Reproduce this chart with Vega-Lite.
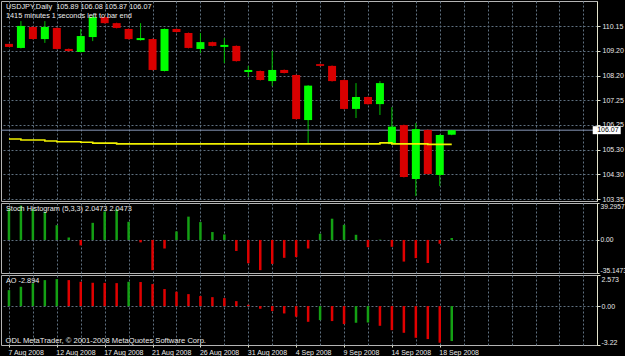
{
  "$schema": "https://vega.github.io/schema/vega-lite/v6.json",
  "background": "#000000",
  "padding": 0,
  "spacing": 2,
  "bounds": "flush",
  "config": {
    "view": {"stroke": "#b4b4b4", "strokeWidth": 1},
    "axis": {
      "domainColor": "#e4e4cc",
      "tickColor": "#e4e4cc",
      "labelColor": "#e8e8e8",
      "labelFont": "Liberation Sans",
      "labelFontSize": 7,
      "tickSize": 3,
      "labelPadding": 1,
      "gridDash": [2, 2],
      "gridColor": "#5f7080",
      "gridOpacity": 1,
      "title": null,
      "labelOverlap": false,
      "labelBound": false
    },
    "title": {
      "anchor": "start",
      "frame": "group",
      "color": "#ececec",
      "font": "Liberation Sans",
      "fontSize": 7.3,
      "fontWeight": "normal",
      "subtitleColor": "#ececec",
      "subtitleFont": "Liberation Sans",
      "subtitleFontSize": 7.3,
      "subtitlePadding": 1.5,
      "dx": 5
    }
  },
  "data": {
    "values": [
      {"i": 0, "open": 109.48, "high": 109.48, "low": 109.36, "close": 109.36, "ma": 105.72, "stoch": 33.6, "ao": 1.32, "aoUp": true},
      {"i": 1, "open": 109.32, "high": 110.38, "low": 109.30, "close": 110.19, "ma": 105.68, "stoch": 36.5, "ao": 1.60, "aoUp": true},
      {"i": 2, "open": 110.15, "high": 110.17, "low": 109.65, "close": 109.67, "ma": 105.68, "stoch": 32.8, "ao": 1.88, "aoUp": true},
      {"i": 3, "open": 109.67, "high": 110.38, "low": 109.52, "close": 110.15, "ma": 105.64, "stoch": 29.9, "ao": 2.15, "aoUp": true},
      {"i": 4, "open": 110.11, "high": 110.13, "low": 109.26, "close": 109.28, "ma": 105.61, "stoch": 15.7, "ao": 2.23, "aoUp": true},
      {"i": 5, "open": 109.28, "high": 109.30, "low": 109.18, "close": 109.20, "ma": 105.61, "stoch": 2.6, "ao": 2.15, "aoUp": false},
      {"i": 6, "open": 109.16, "high": 110.07, "low": 109.14, "close": 109.79, "ma": 105.59, "stoch": -5.8, "ao": 2.01, "aoUp": false},
      {"i": 7, "open": 109.75, "high": 110.62, "low": 109.59, "close": 110.54, "ma": 105.56, "stoch": 18.2, "ao": 1.93, "aoUp": false},
      {"i": 8, "open": 110.54, "high": 110.56, "low": 110.28, "close": 110.30, "ma": 105.56, "stoch": 30.3, "ao": 1.92, "aoUp": false},
      {"i": 9, "open": 110.30, "high": 110.32, "low": 110.09, "close": 110.11, "ma": 105.53, "stoch": 32.8, "ao": 1.90, "aoUp": false},
      {"i": 10, "open": 110.07, "high": 110.09, "low": 109.65, "close": 109.67, "ma": 105.53, "stoch": 19.3, "ao": 2.01, "aoUp": true},
      {"i": 11, "open": 109.63, "high": 110.30, "low": 109.61, "close": 109.71, "ma": 105.53, "stoch": -2.6, "ao": 1.99, "aoUp": false},
      {"i": 12, "open": 109.67, "high": 109.69, "low": 108.43, "close": 108.45, "ma": 105.53, "stoch": -32.1, "ao": 1.82, "aoUp": false},
      {"i": 13, "open": 108.41, "high": 110.09, "low": 108.39, "close": 110.07, "ma": 105.53, "stoch": -9.1, "ao": 1.41, "aoUp": false},
      {"i": 14, "open": 110.07, "high": 110.09, "low": 109.93, "close": 109.95, "ma": 105.53, "stoch": 9.1, "ao": 1.19, "aoUp": false},
      {"i": 15, "open": 109.91, "high": 109.93, "low": 109.30, "close": 109.32, "ma": 105.53, "stoch": 24.8, "ao": 0.99, "aoUp": false},
      {"i": 16, "open": 109.28, "high": 109.91, "low": 109.12, "close": 109.55, "ma": 105.53, "stoch": 19.0, "ao": 0.83, "aoUp": false},
      {"i": 17, "open": 109.55, "high": 109.57, "low": 109.38, "close": 109.40, "ma": 105.53, "stoch": 8.4, "ao": 0.74, "aoUp": false},
      {"i": 18, "open": 109.36, "high": 109.71, "low": 108.72, "close": 109.44, "ma": 105.53, "stoch": 5.8, "ao": 0.66, "aoUp": false},
      {"i": 19, "open": 109.40, "high": 109.42, "low": 108.78, "close": 108.80, "ma": 105.53, "stoch": -11.7, "ao": 0.41, "aoUp": false},
      {"i": 20, "open": 108.37, "high": 108.61, "low": 108.17, "close": 108.45, "ma": 105.53, "stoch": -24.8, "ao": 0.11, "aoUp": false},
      {"i": 21, "open": 108.41, "high": 108.43, "low": 108.03, "close": 108.05, "ma": 105.53, "stoch": -32.1, "ao": -0.22, "aoUp": false},
      {"i": 22, "open": 108.01, "high": 109.20, "low": 107.81, "close": 108.45, "ma": 105.53, "stoch": -25.5, "ao": -0.41, "aoUp": false},
      {"i": 23, "open": 108.45, "high": 108.47, "low": 108.31, "close": 108.33, "ma": 105.53, "stoch": -19.0, "ao": -0.61, "aoUp": false},
      {"i": 24, "open": 108.25, "high": 108.27, "low": 106.49, "close": 106.51, "ma": 105.53, "stoch": -18.2, "ao": -0.88, "aoUp": false},
      {"i": 25, "open": 106.47, "high": 107.85, "low": 105.56, "close": 107.83, "ma": 105.53, "stoch": -9.1, "ao": -1.30, "aoUp": false},
      {"i": 26, "open": 108.68, "high": 108.70, "low": 108.59, "close": 108.61, "ma": 105.53, "stoch": 6.6, "ao": -1.16, "aoUp": true},
      {"i": 27, "open": 108.61, "high": 108.63, "low": 107.99, "close": 108.01, "ma": 105.53, "stoch": 22.6, "ao": -1.24, "aoUp": false},
      {"i": 28, "open": 108.05, "high": 108.07, "low": 106.89, "close": 106.91, "ma": 105.53, "stoch": 16.1, "ao": -1.49, "aoUp": false},
      {"i": 29, "open": 106.91, "high": 107.93, "low": 106.55, "close": 107.38, "ma": 105.53, "stoch": 5.5, "ao": -1.38, "aoUp": true},
      {"i": 30, "open": 107.38, "high": 107.40, "low": 107.08, "close": 107.10, "ma": 105.53, "stoch": -7.7, "ao": -1.36, "aoUp": true},
      {"i": 31, "open": 107.10, "high": 108.01, "low": 106.67, "close": 107.93, "ma": 105.57, "stoch": 0.4, "ao": -1.63, "aoUp": false},
      {"i": 32, "open": 105.52, "high": 106.98, "low": 105.50, "close": 106.21, "ma": 105.53, "stoch": -7.3, "ao": -1.99, "aoUp": false},
      {"i": 33, "open": 106.27, "high": 106.29, "low": 104.20, "close": 104.22, "ma": 105.53, "stoch": -23.0, "ao": -2.21, "aoUp": false},
      {"i": 34, "open": 104.14, "high": 106.35, "low": 103.47, "close": 106.11, "ma": 105.53, "stoch": -19.3, "ao": -2.62, "aoUp": false},
      {"i": 35, "open": 106.08, "high": 106.10, "low": 104.32, "close": 104.34, "ma": 105.51, "stoch": -24.5, "ao": -2.73, "aoUp": false},
      {"i": 36, "open": 104.30, "high": 105.90, "low": 103.86, "close": 105.88, "ma": 105.51, "stoch": -4.0, "ao": -3.03, "aoUp": false},
      {"i": 37, "open": 105.89, "high": 106.08, "low": 105.87, "close": 106.07, "ma": 105.51, "stoch": 2.0473, "ao": -2.894, "aoUp": true}
    ]
  },
  "vconcat": [
    {
      "width": 596,
      "height": 200,
      "title": {
        "text": "USDJPY,Daily\u00a0 105.89 106.08 105.87 106.07",
        "subtitle": "1415 minutes 1 seconds left to bar end",
        "offset": -18
      },
      "layer": [
        {
          "mark": {"type": "rule", "strokeWidth": 1, "clip": true},
          "encoding": {
            "x": {
              "field": "i", "type": "quantitative",
              "scale": {"domain": [-0.246, 48.72], "nice": false, "zero": false},
              "axis": {"values": [0,2,4,6,8,10,12,14,16,18,20,22,24,26,28,30,32,34,36,38,40,42,44,46,48], "tickCount": 100, "grid": true, "labels": false, "ticks": false, "domain": false}
            },
            "y": {
              "field": "low", "type": "quantitative",
              "scale": {"domain": [103.271, 111.175], "nice": false, "zero": false},
              "axis": {
                "orient": "right",
                "values": [103.35, 104.325, 105.3, 106.275, 107.25, 108.225, 109.2, 110.175],
                "tickCount": 100,
                "labelPadding": 2,
                "labelExpr": "format(floor(datum.value * 20 + 0.000001) / 20, '.2f')",
                "grid": true
              }
            },
            "y2": {"field": "high"},
            "color": {"condition": {"test": "datum.close >= datum.open", "value": "#00c000"}, "value": "#c80000"}
          }
        },
        {
          "transform": [{"filter": "datum.i == 37"}],
          "mark": {"type": "rule", "color": "#8898b8", "strokeWidth": 1},
          "encoding": {
            "y": {"field": "close", "type": "quantitative"}
          }
        },
        {
          "mark": {"type": "bar", "size": 8, "orient": "vertical", "clip": true},
          "encoding": {
            "x": {"field": "i", "type": "quantitative"},
            "y": {"field": "open", "type": "quantitative"},
            "y2": {"field": "close"},
            "color": {"condition": {"test": "datum.close >= datum.open", "value": "#00ff00"}, "value": "#d80000"}
          }
        },
        {
          "mark": {"type": "line", "color": "#f0f000", "strokeWidth": 1.6, "interpolate": "step-after"},
          "encoding": {
            "x": {"field": "i", "type": "quantitative"},
            "y": {"field": "ma", "type": "quantitative"}
          }
        },
        {
          "transform": [{"filter": "datum.i == 37"}],
          "mark": {"type": "tick", "orient": "horizontal", "size": 28, "thickness": 8, "color": "#ffffff", "opacity": 1},
          "encoding": {
            "x": {"datum": 49.95},
            "y": {"field": "close", "type": "quantitative"}
          }
        },
        {
          "transform": [{"filter": "datum.i == 37"}],
          "mark": {"type": "text", "align": "left", "baseline": "middle", "font": "Liberation Sans", "fontSize": 7, "color": "#000000"},
          "encoding": {
            "x": {"datum": 49.15},
            "y": {"field": "close", "type": "quantitative"},
            "text": {"field": "close", "format": ".2f"}
          }
        }
      ]
    },
    {
      "width": 596,
      "height": 70,
      "title": {"text": "Stoch Histogram (5,3,3) 2.0473 2.0473", "offset": -10},
      "mark": {"type": "bar", "size": 2.5, "orient": "vertical"},
      "encoding": {
        "x": {
          "field": "i", "type": "quantitative",
          "scale": {"domain": [-0.246, 48.72], "nice": false, "zero": false},
          "axis": {"values": [0,2,4,6,8,10,12,14,16,18,20,22,24,26,28,30,32,34,36,38,40,42,44,46,48], "tickCount": 100, "grid": true, "labels": false, "ticks": false, "domain": false}
        },
        "y": {
          "field": "stoch", "type": "quantitative",
          "scale": {"domain": [-35.1473, 39.2957], "nice": false},
          "axis": {
            "orient": "right",
            "values": [-35.1473, 0, 39.2957],
            "tickCount": 100,
            "tickSize": 2,
            "labelFontSize": 6.7,
            "labelExpr": "datum.value === 0 ? '0.00' : '' + datum.value",
            "labelFlush": true,
            "grid": true,
            "gridOpacity": {"condition": {"test": "datum.value === 0", "value": 1}, "value": 0}
          }
        },
        "color": {"condition": {"test": "datum.stoch >= 0", "value": "#14a014"}, "value": "#e00000"}
      }
    },
    {
      "width": 596,
      "height": 70,
      "title": {"text": "AO -2.894", "offset": -10},
      "mark": {"type": "bar", "size": 2.5, "orient": "vertical"},
      "encoding": {
        "x": {
          "field": "i", "type": "quantitative",
          "scale": {"domain": [-0.246, 48.72], "nice": false, "zero": false},
          "axis": {
            "values": [0,2,4,6,8,10,12,14,16,18,20,22,24,26,28,30,32,34,36,38,40,42,44,46,48],
            "tickCount": 100,
            "grid": true,
            "domain": false,
            "tickSize": 2,
            "tickOpacity": {"condition": {"test": "datum.value % 4 === 0 && datum.value <= 36", "value": 1}, "value": 0},
            "labelAlign": "left",
            "labelBaseline": "top",
            "labelOffset": -1,
            "labelPadding": 1,
            "labelExpr": "datum.value % 4 === 0 && datum.value <= 36 ? ['7 Aug 2008','12 Aug 2008','17 Aug 2008','21 Aug 2008','26 Aug 2008','31 Aug 2008','4 Sep 2008','9 Sep 2008','14 Sep 2008','18 Sep 2008'][datum.value / 4] : ''",
            "title": "ODL MetaTrader, © 2001-2008 MetaQuotes Software Corp.",
            "titleAnchor": "start",
            "titleAlign": "left",
            "titleBaseline": "alphabetic",
            "titleX": 4,
            "titleY": -3,
            "titleColor": "#ececec",
            "titleFont": "Liberation Sans",
            "titleFontSize": 7.6,
            "titleFontWeight": "normal"
          }
        },
        "y": {
          "field": "ao", "type": "quantitative",
          "scale": {"domain": [-3.22, 2.573], "nice": false},
          "axis": {
            "orient": "right",
            "values": [-3.22, 0, 2.573],
            "tickCount": 100,
            "labelExpr": "datum.value === 0 ? '0.00' : '' + datum.value",
            "labelFlush": true,
            "grid": true,
            "gridOpacity": {"condition": {"test": "datum.value === 0", "value": 1}, "value": 0}
          }
        },
        "color": {"condition": {"test": "datum.aoUp", "value": "#14a014"}, "value": "#e00000"}
      }
    }
  ]
}
